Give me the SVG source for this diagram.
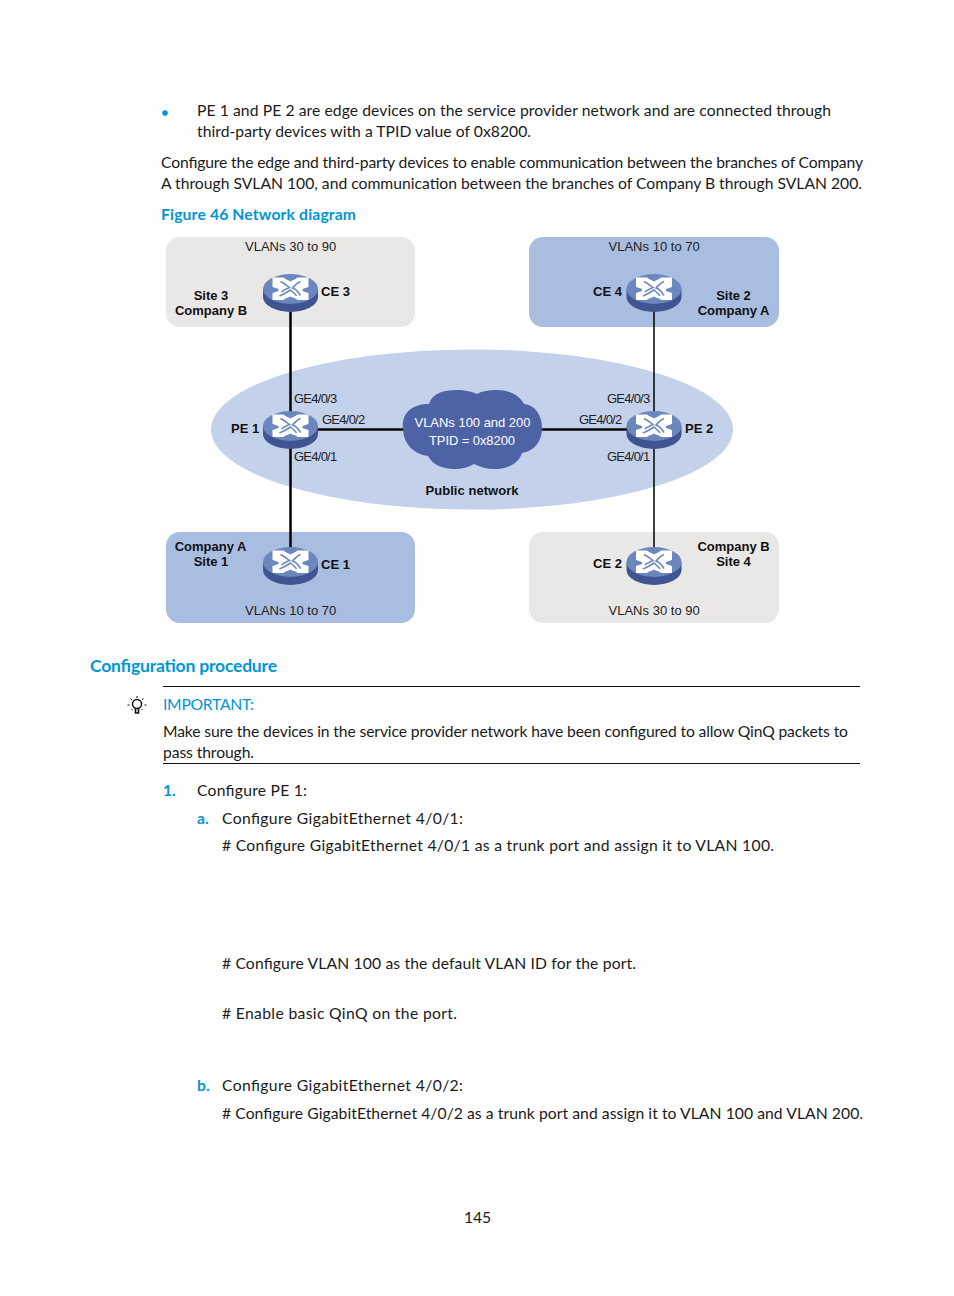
<svg xmlns="http://www.w3.org/2000/svg" width="954" height="1296" viewBox="0 0 954 1296">
<style>
text{font-family:"Lato","Open Sans","Liberation Sans",sans-serif;font-size:15.700px;fill:#1a1a1a}
.blue{fill:#0096d6}
.bb{fill:#0096d6;font-weight:bold}
.d{font-family:"Liberation Sans",Arial,sans-serif;font-size:13px;fill:#222;letter-spacing:-.2px}
.db{font-family:"Liberation Sans",Arial,sans-serif;font-size:13px;font-weight:bold;fill:#111}
.w{font-family:"Liberation Sans",Arial,sans-serif;font-size:13px;fill:#fff}
.g{fill:#e9e8e6}.b{fill:#a9bde0}
.lk{stroke:#000;fill:none}
</style>
<defs>
<g id="router">
<path d="M-27.500-4V4A27.500 15 0 0 0 27.500 4V-4Z" fill="#3f5490"/>
<ellipse cx="0" cy="-4" rx="27.500" ry="15" fill="#6b87be"/>
<path fill="#fff" d="M-18-15.500H-7L-4-13.500H4L7-15.500H18V-6L15.500-4V-2L18 0V7H7L4 5H-4L-7 7H-18V0L-15.500-2V-4L-18-6Z"/>
<g fill="none" stroke="#6b87be" stroke-width="1.600">
<path d="M-10-11.500C-5-9-3-7-1-5.500C-4-4-7-3-9-1"/>
<path d="M10-11.500C6-10 4-7 2-5C5-4 8-1 10 2.500"/>
<path d="M-11 3C-6 1-3-1 0-3C2-1 5 1 6 3"/>
</g>
<path fill="#6b87be" d="M-7-15.500H7L0-11.500ZM-7 7H7L0 3.500ZM-18-6L-12-4-12-2-18 0ZM18-6L12-4 12-2 18 0Z"/>
</g>
<g id="bulb" fill="none" stroke="#111">
<circle cx="0" cy="-2" r="4.500" stroke-width="1.500"/>
<path d="M-1.500 3v4h3v-4" stroke-width="1.600"/>
<path d="M0-10v2M-6.500-7.500l1.500 1.500M6.500-7.500l-1.500 1.500M-9.500-1h2M7.500-1h2M-5.500 4l1-1M5.500 4l-1-1" stroke-width="1"/>
</g>
</defs>
<rect width="954" height="1296" fill="#fff"/>

<g id="page-text">
<circle cx="165" cy="113" r="2.800" fill="#0096d6"/>
<text x="197" y="116" textLength="634">PE 1 and PE 2 are edge devices on the service provider network and are connected through</text>
<text x="197" y="137" textLength="334">third-party devices with a TPID value of 0x8200.</text>
<text x="161" y="168" textLength="702">Configure the edge and third-party devices to enable communication between the branches of Company</text>
<text x="161" y="189" textLength="701">A through SVLAN 100, and communication between the branches of Company B through SVLAN 200.</text>
<text x="161" y="220" class="bb" textLength="195">Figure 46 Network diagram</text>
<text x="90" y="672" class="bb" style="font-size:17.500px" textLength="187">Configuration procedure</text>
<text x="163" y="710" class="blue" textLength="91">IMPORTANT:</text>
<text x="163" y="737" textLength="685">Make sure the devices in the service provider network have been configured to allow QinQ packets to</text>
<text x="163" y="758" textLength="91">pass through.</text>
<text x="163" y="796" class="bb">1.</text>
<text x="197" y="796" textLength="110">Configure PE 1:</text>
<text x="197" y="824" class="bb">a.</text>
<text x="222" y="824" textLength="241">Configure GigabitEthernet 4/0/1:</text>
<text x="222" y="851" textLength="552"># Configure GigabitEthernet 4/0/1 as a trunk port and assign it to VLAN 100.</text>
<text x="222" y="969" textLength="414"># Configure VLAN 100 as the default VLAN ID for the port.</text>
<text x="222" y="1019" textLength="235"># Enable basic QinQ on the port.</text>
<text x="197" y="1091" class="bb">b.</text>
<text x="222" y="1091" textLength="241">Configure GigabitEthernet 4/0/2:</text>
<text x="222" y="1119" textLength="641"># Configure GigabitEthernet 4/0/2 as a trunk port and assign it to VLAN 100 and VLAN 200.</text>
<text x="464" y="1223" textLength="27">145</text>
<line x1="163" y1="686.500" x2="860" y2="686.500" stroke="#111"/>
<line x1="163" y1="763.500" x2="860" y2="763.500" stroke="#111"/>
<use href="#bulb" x="137" y="706"/>
</g>

<g id="areas">
<rect x="166" y="237" width="249" height="90" rx="14" class="g"/>
<rect x="529" y="237" width="250" height="90" rx="14" class="b"/>
<rect x="166" y="532" width="249" height="91" rx="14" class="b"/>
<rect x="529" y="532" width="250" height="91" rx="14" class="g"/>
<ellipse id="public-network" cx="472" cy="429.500" rx="261" ry="80" fill="#c3d1eb"/>
</g>

<g id="connectors">
<line class="lk" x1="290.500" y1="305" x2="290.500" y2="550" stroke-width="2.500"/>
<line class="lk" x1="290" y1="429.500" x2="654" y2="429.500" stroke-width="2.500"/>
<line class="lk" x1="654" y1="305" x2="654" y2="550" stroke-width="1.500"/>
</g>

<g id="cloud">
<path fill="#4e63a6" d="M403 430C401 413 412 404 429 404C432 393 444 390 456 390C465 390 473 392 477 394C482 391 489 390 497 390C510 390 520 396 524 404C535 405 542 415 542 428C542 442 534 451 522 453C519 463 508 469 495 469C487 469 480 467 474 464C469 467 462 469 454 469C442 469 432 464 428 456C413 454 404 444 403 430Z"/>
<text class="w" x="472.500" y="426.500" text-anchor="middle" textLength="116">VLANs 100 and 200</text>
<text class="w" x="472" y="445" text-anchor="middle" textLength="86">TPID = 0x8200</text>
</g>

<g id="ce3"><use href="#router" x="290.500" y="293"/><text class="db" x="321" y="296">CE 3</text><text class="db" x="211" y="300" text-anchor="middle">Site 3</text><text class="db" x="211" y="315" text-anchor="middle">Company B</text><text class="d" x="290.500" y="251" text-anchor="middle" textLength="91">VLANs 30 to 90</text></g>
<g id="ce4"><use href="#router" x="654" y="293"/><text class="db" x="593" y="296">CE 4</text><text class="db" x="733.500" y="300" text-anchor="middle">Site 2</text><text class="db" x="733.500" y="315" text-anchor="middle">Company A</text><text class="d" x="654" y="251" text-anchor="middle" textLength="91">VLANs 10 to 70</text></g>
<g id="pe1"><use href="#router" x="290.500" y="430"/><text class="db" x="231" y="433">PE 1</text><text class="d" x="294" y="403" textLength="43">GE4/0/3</text><text class="d" x="322" y="424" textLength="43">GE4/0/2</text><text class="d" x="294" y="461" textLength="43">GE4/0/1</text></g>
<g id="pe2"><use href="#router" x="654" y="430"/><text class="db" x="685" y="433">PE 2</text><text class="d" x="607" y="403" textLength="43">GE4/0/3</text><text class="d" x="579" y="424" textLength="43">GE4/0/2</text><text class="d" x="607" y="461" textLength="43">GE4/0/1</text></g>
<text class="db" x="472" y="495" text-anchor="middle" textLength="93">Public network</text>
<g id="ce1"><use href="#router" x="290.500" y="566"/><text class="db" x="321" y="569">CE 1</text><text class="db" x="210.500" y="551" text-anchor="middle">Company A</text><text class="db" x="211" y="566" text-anchor="middle">Site 1</text><text class="d" x="290.500" y="615" text-anchor="middle" textLength="91">VLANs 10 to 70</text></g>
<g id="ce2"><use href="#router" x="654" y="566"/><text class="db" x="593" y="568">CE 2</text><text class="db" x="733.500" y="551" text-anchor="middle">Company B</text><text class="db" x="733.500" y="566" text-anchor="middle">Site 4</text><text class="d" x="654" y="615" text-anchor="middle" textLength="91">VLANs 30 to 90</text></g>
</svg>
